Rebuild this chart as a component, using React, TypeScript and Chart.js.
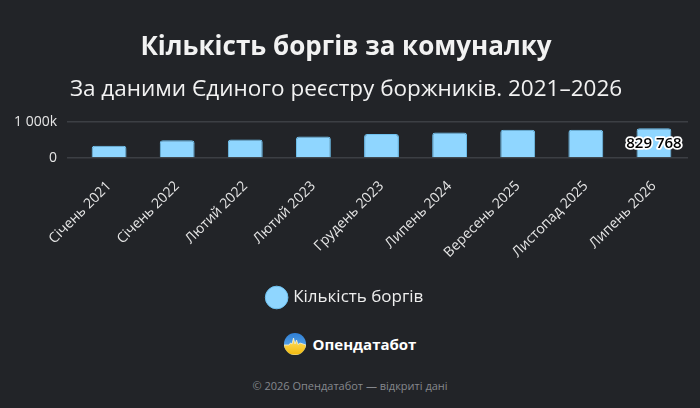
import { useEffect, useRef } from 'react'
import { Chart, registerables, type Plugin } from 'chart.js'

Chart.register(...registerables)

const months = [
  'Січень 2021',
  'Січень 2022',
  'Лютий 2022',
  'Лютий 2023',
  'Грудень 2023',
  'Липень 2024',
  'Вересень 2025',
  'Листопад 2025',
  'Липень 2026',
]
const debtCounts = [344000, 493000, 513000, 597000, 670000, 709000, 791000, 787000, 829768]
const seriesName = 'Кількість боргів'
const titleText = 'Кількість боргів за комуналку'
const subtitleText = 'За даними Єдиного реєстру боржників. 2021–2026'
const footerText = '© 2026 Опендатабот — відкриті дані'
const brandName = 'Опендатабот'

const BG = '#222428'
const BAR = '#8fd6ff'
const FONT = '"Open Sans", "Noto Sans", sans-serif'

// 1 000 000 -> "1 000k", 829768 -> "829 768"
function spaced(n: number): string {
  return String(Math.round(n)).replace(/\B(?=(\d{3})+(?!\d))/g, ' ')
}

function tickLabel(v: number): string {
  if (v === 0) return '0'
  return spaced(v / 1000) + 'k'
}

// only the last bar gets its value printed, outlined like the original
const lastValueLabel: Plugin<'bar'> = {
  id: 'lastValueLabel',
  afterDatasetsDraw(chart) {
    const meta = chart.getDatasetMeta(0)
    const i = debtCounts.length - 1
    const bar = meta.data[i] as unknown as { x: number; y: number; base: number }
    if (!bar) return
    const { ctx } = chart
    const text = spaced(debtCounts[i])
    ctx.save()
    ctx.font = `600 15px ${FONT}`
    ctx.textAlign = 'center'
    ctx.textBaseline = 'middle'
    const y = (bar.y + bar.base) / 2 + 1
    ctx.lineJoin = 'round'
    ctx.lineWidth = 3.5
    ctx.strokeStyle = '#ffffff'
    ctx.strokeText(text, bar.x, y)
    ctx.fillStyle = '#000000'
    ctx.fillText(text, bar.x, y)
    ctx.restore()
  },
}

function Logo() {
  return (
    <svg width="22" height="22" viewBox="0 0 22 22">
      <defs>
        <clipPath id="lc">
          <circle cx="11" cy="11" r="11" />
        </clipPath>
        <linearGradient id="lb" x1="0" y1="0" x2="0" y2="1">
          <stop offset="0" stopColor="#2f7fd6" />
          <stop offset="1" stopColor="#6db8f0" />
        </linearGradient>
        <linearGradient id="ly" x1="0" y1="0" x2="0" y2="1">
          <stop offset="0" stopColor="#ffe066" />
          <stop offset="1" stopColor="#f2b90c" />
        </linearGradient>
      </defs>
      <g clipPath="url(#lc)">
        <rect x="0" y="0" width="22" height="22" fill="url(#lb)" />
        <path
          d="M0 12 L5 12 L6.5 10 L8 11 L9.5 5 L11 11 L12.5 7 L14 11.5 L16 10 L22 12 L22 22 L0 22 Z"
          fill="url(#ly)"
          stroke="#f4f0d8"
          strokeWidth="0.8"
        />
      </g>
    </svg>
  )
}

export default function App() {
  const canvasRef = useRef<HTMLCanvasElement>(null)
  const chartRef = useRef<Chart | null>(null)

  useEffect(() => {
    const canvas = canvasRef.current
    if (!canvas) return
    chartRef.current?.destroy()

    chartRef.current = new Chart(canvas, {
      type: 'bar',
      data: {
        labels: months,
        datasets: [
          {
            label: seriesName,
            data: debtCounts,
            backgroundColor: BAR,
            borderColor: '#6fc2f0',
            borderWidth: 1,
            borderRadius: 3,
            borderSkipped: 'bottom',
            categoryPercentage: 0.8,
            barPercentage: 0.64,
          },
        ],
      },
      options: {
        responsive: true,
        maintainAspectRatio: false,
        animation: false,
        layout: { padding: { left: 4, right: 12, top: 0, bottom: 0 } },
        plugins: {
          title: {
            display: true,
            text: titleText,
            color: '#f2f2f2',
            font: { family: FONT, size: 26, weight: 'bold' },
            padding: { top: 32, bottom: 8 },
          },
          subtitle: {
            display: true,
            text: subtitleText,
            color: '#f2f2f2',
            font: { family: FONT, size: 22.5, weight: 500 },
            padding: { top: 5, bottom: 19 },
          },
          legend: {
            position: 'bottom',
            labels: {
              usePointStyle: true,
              pointStyle: 'circle',
              boxWidth: 16,
              boxHeight: 16,
              color: '#eeeeee',
              font: { family: FONT, size: 17 },
              padding: 16,
            },
          },
          tooltip: { enabled: false },
        },
        scales: {
          x: {
            ticks: {
              color: '#e6e6e6',
              font: { family: FONT, size: 14 },
              maxRotation: 45,
              minRotation: 45,
              autoSkip: false,
              padding: 12,
            },
            grid: { display: false },
            border: { display: false },
          },
          y: {
            min: 0,
            max: 1000000,
            ticks: {
              stepSize: 1000000,
              color: '#e6e6e6',
              font: { family: FONT, size: 14 },
              padding: 10,
              callback: (v) => tickLabel(Number(v)),
            },
            grid: { color: '#3c3f44', lineWidth: 1.5 },
            border: { display: false },
          },
        },
      },
      plugins: [lastValueLabel],
    })

    return () => {
      chartRef.current?.destroy()
      chartRef.current = null
    }
  }, [])

  return (
    <div
      style={{
        position: 'fixed',
        left: 0,
        top: 0,
        width: 700,
        height: 408,
        background: BG,
        fontFamily: FONT,
      }}
    >
      <div style={{ position: 'absolute', left: 0, top: 0, width: 700, height: 316 }}>
        <canvas ref={canvasRef} />
      </div>
      <div
        style={{
          position: 'absolute',
          left: 0,
          top: 333,
          width: 700,
          display: 'flex',
          justifyContent: 'center',
          alignItems: 'center',
          gap: 7,
          color: '#ffffff',
          fontWeight: 700,
          fontSize: 15,
        }}
      >
        <Logo />
        <span>{brandName}</span>
      </div>
      <div
        style={{
          position: 'absolute',
          left: 0,
          top: 378,
          width: 700,
          textAlign: 'center',
          color: '#85888d',
          fontSize: 11,
        }}
      >
        {footerText}
      </div>
    </div>
  )
}
